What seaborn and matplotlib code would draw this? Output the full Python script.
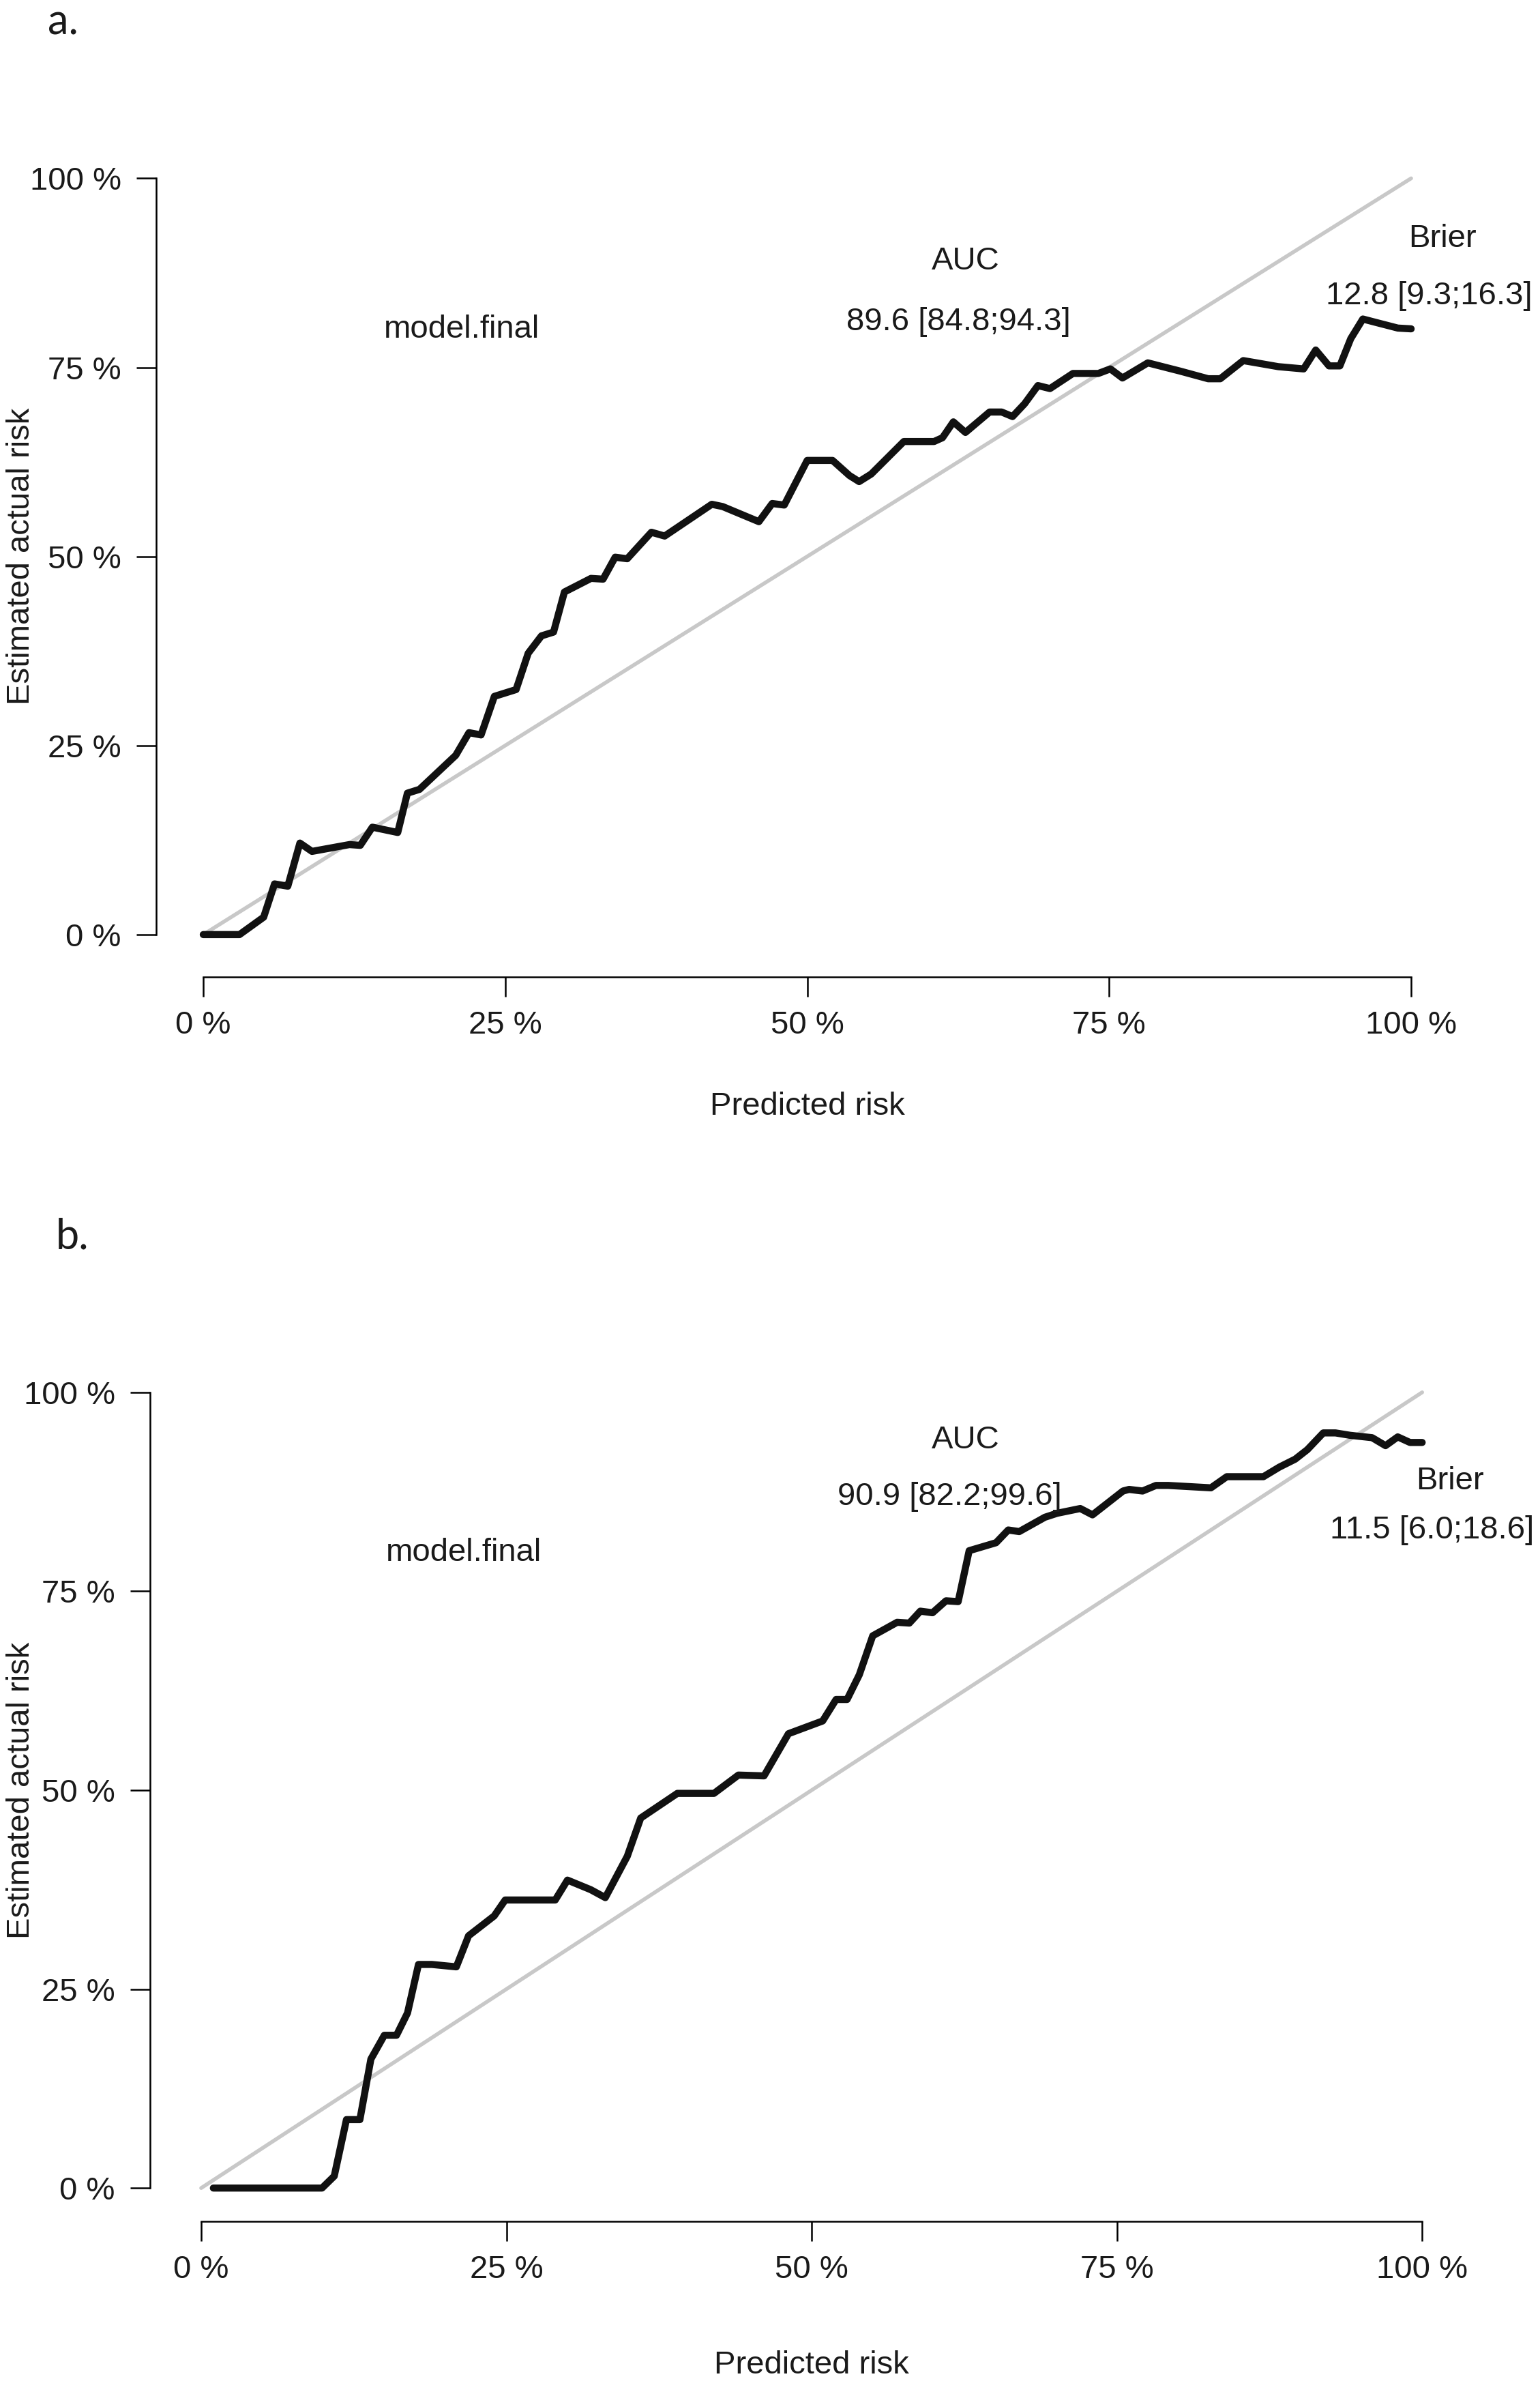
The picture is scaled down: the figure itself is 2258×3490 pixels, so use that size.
import numpy as np
import pandas as pd
import matplotlib
matplotlib.use("Agg")
import matplotlib.pyplot as plt
import seaborn as sns

# calibration curves (percent)
top_x = [0, 3.0, 5.0, 5.9, 7.0, 8.0, 9.0, 12.1, 13.0, 14.0, 16.1, 16.9, 17.9, 20.9, 22.0,
         23.0, 24.1, 25.9, 26.9, 28.0, 29.0, 29.9, 32.1, 33.1, 34.1, 35.1, 37.1, 38.2, 42.1, 43.0,
         46.0, 47.1, 48.1, 50.0, 52.1, 53.5, 54.3, 55.3, 58.0, 60.5, 61.2, 62.1, 63.1, 65.1, 66.1,
         67.0, 68.0, 69.1, 70.1, 72.0, 74.1, 75.1, 76.1, 78.2, 80.9, 83.2, 84.2, 86.1, 87.2, 89.0,
         91.1, 92.1, 93.2, 94.1, 95.0, 96.0, 97.2, 98.9, 100]
top_y = [0, 0, 2.3, 6.7, 6.4, 12.1, 11.0, 11.9, 11.8, 14.2, 13.5, 18.7, 19.2, 23.7, 26.7,
         26.4, 31.5, 32.4, 37.2, 39.5, 40.0, 45.3, 47.1, 47.0, 49.9, 49.7, 53.2, 52.7, 56.9, 56.6,
         54.6, 57.0, 56.8, 62.7, 62.7, 60.7, 59.9, 60.9, 65.2, 65.2, 65.7, 67.8, 66.4, 69.1, 69.1,
         68.5, 70.2, 72.6, 72.2, 74.2, 74.2, 74.8, 73.6, 75.6, 74.5, 73.5, 73.5, 75.9, 75.6, 75.1,
         74.8, 77.3, 75.2, 75.2, 78.8, 81.4, 80.9, 80.2, 80.1]

bot_x = [1, 9.9, 10.9, 11.9, 13.0, 13.9, 15.0, 16.0, 16.9, 17.8, 18.9, 20.9, 21.9, 24.0, 24.9,
         29.0, 30.0, 31.9, 33.1, 34.9, 36.0, 39.0, 42.0, 44.0, 46.1, 48.1, 50.9, 52.0, 52.9, 53.9,
         55.0, 57.0, 58.0, 58.9, 59.9, 61.0, 62.0, 62.9, 65.1, 66.1, 67.0, 69.1, 70.1, 72.0, 73.0,
         75.5, 76.0, 77.1, 78.2, 79.2, 82.7, 84.0, 87.0, 88.3, 89.6, 90.6, 91.9, 92.9, 94.1, 95.9,
         97.0, 98.0, 99.0, 100]
bot_y = [0, 0, 1.5, 8.6, 8.6, 16.2, 19.2, 19.2, 22.0, 28.1, 28.1, 27.8, 31.7, 34.2, 36.2,
         36.2, 38.7, 37.5, 36.5, 41.7, 46.5, 49.6, 49.6, 51.9, 51.8, 57.1, 58.7, 61.4, 61.4, 64.5,
         69.4, 71.1, 71.0, 72.5, 72.3, 73.8, 73.7, 80.1, 81.1, 82.7, 82.5, 84.3, 84.8, 85.4, 84.6,
         87.6, 87.8, 87.6, 88.3, 88.3, 88.0, 89.4, 89.4, 90.6, 91.6, 92.8, 94.9, 94.9, 94.6, 94.3,
         93.3, 94.4, 93.7, 93.7]

diag = [0, 100]
ticks = [0, 25, 50, 75, 100]
tick_labels = ["0 %", "25 %", "50 %", "75 %", "100 %"]

panels = [
    {"tag": "a.", "x": top_x, "y": top_y, "auc": "89.6 [84.8;94.3]", "brier": "12.8 [9.3;16.3]",
     "rect": [0.1014, 0.5897, 0.8463, 0.3481], "xlim": (-3.9, 104), "ylim": (-5.6, 104),
     "tagpos": (0.031, 0.9905), "model": (21.4, 80.0), "auc_t": (63.1, 89.0), "auc_v": (62.5, 81.0),
     "brier_t": (102.6, 92.0), "brier_v": (101.5, 84.4), "xl": -0.138, "yl": -0.092},
    {"tag": "b.", "x": bot_x, "y": bot_y, "auc": "90.9 [82.2;99.6]", "brier": "11.5 [6.0;18.6]",
     "rect": [0.0974, 0.0670, 0.8578, 0.3616], "xlim": (-4.19, 104), "ylim": (-4.2, 104),
     "tagpos": (0.036, 0.4805), "model": (21.5, 79.8), "auc_t": (62.6, 94.0), "auc_v": (61.3, 86.9),
     "brier_t": (102.3, 88.8), "brier_v": (100.8, 82.7), "xl": -0.150, "yl": -0.086},
]

sns.set_style("white")
plt.rcParams['font.family'] = ['Liberation Sans', 'DejaVu Sans']

fig = plt.figure(figsize=(22.58, 34.90), dpi=100)
fs = 34

for p in panels:
    ax = fig.add_axes(p["rect"])
    sns.lineplot(x=diag, y=diag, ax=ax, color="#c8c8c8", linewidth=4)
    df = pd.DataFrame({"pred": p["x"], "obs": p["y"]})
    sns.lineplot(data=df, x="pred", y="obs", ax=ax, color="#111111", linewidth=7.5,
                 sort=False, estimator=None, solid_joinstyle="round", solid_capstyle="round")
    ax.set_xlim(*p["xlim"])
    ax.set_ylim(*p["ylim"])
    for s in ["top", "right"]:
        ax.spines[s].set_visible(False)
    for s in ["left", "bottom"]:
        ax.spines[s].set_linewidth(1.8)
        ax.spines[s].set_color("black")
    ax.spines["left"].set_bounds(0, 100)
    ax.spines["bottom"].set_bounds(0, 100)
    ax.set_xticks(ticks)
    ax.set_xticklabels(tick_labels)
    ax.set_yticks(ticks)
    ax.set_yticklabels(tick_labels)
    ax.tick_params(axis="both", direction="out", length=21, width=1.8, labelsize=fs,
                   bottom=True, left=True, color="black", labelcolor="#1a1a1a")
    ax.tick_params(axis="x", pad=14)
    ax.tick_params(axis="y", pad=16)
    ax.set_xlabel("Predicted risk", fontsize=fs, color="#1a1a1a")
    ax.set_ylabel("Estimated actual risk", fontsize=fs, color="#1a1a1a")
    x0, x1 = p["xlim"]
    y0, y1 = p["ylim"]
    ax.xaxis.set_label_coords((50 - x0) / (x1 - x0), p["xl"])
    ax.yaxis.set_label_coords(p["yl"], (50 - y0) / (y1 - y0))
    tk = dict(fontsize=fs, color="#1a1a1a", ha="center", va="center", clip_on=False)
    ax.text(*p["model"], "model.final", **tk)
    ax.text(*p["auc_t"], "AUC", **tk)
    ax.text(*p["auc_v"], p["auc"], **tk)
    ax.text(*p["brier_t"], "Brier", **tk)
    ax.text(*p["brier_v"], p["brier"], **tk)
    fig.text(p["tagpos"][0], p["tagpos"][1], p["tag"], fontsize=44, family=["Lato", "DejaVu Sans"],
             ha="left", va="center", color="#1a1a1a")

fig.savefig("out.png", dpi=100, facecolor="white")
